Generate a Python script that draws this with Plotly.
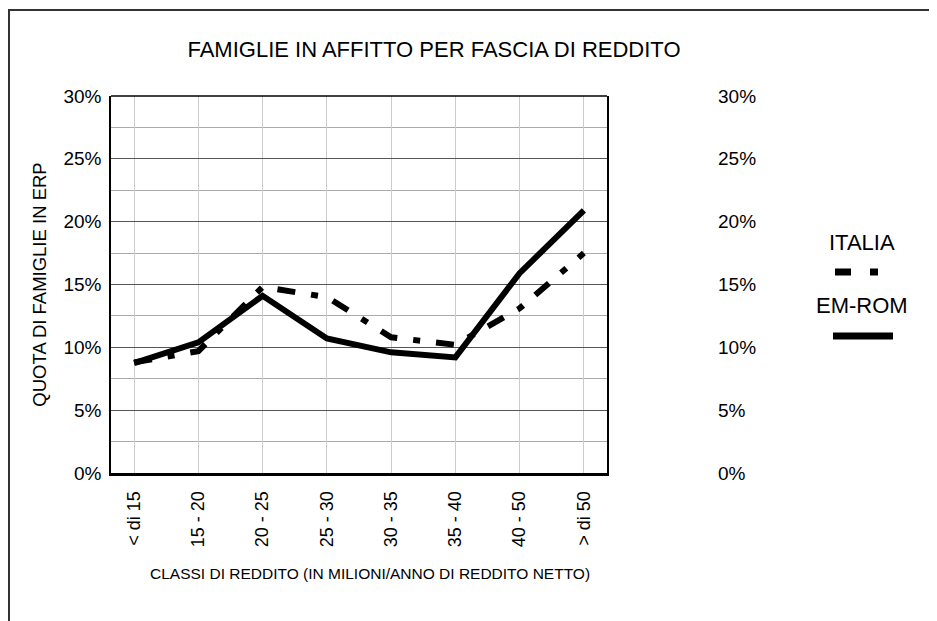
import plotly.graph_objects as go

# income classes (millions of lire / year, net)
classi = ["< di 15", "15 - 20", "20 - 25", "25 - 30", "30 - 35", "35 - 40", "40 - 50", "> di 50"]
# share of families in public housing (ERP), in %
italia = [8.8, 9.7, 14.8, 14.0, 10.8, 10.2, 13.1, 17.5]
em_rom = [8.75, 10.4, 14.1, 10.7, 9.6, 9.2, 15.9, 20.9]

y_ticks = [0, 0.05, 0.10, 0.15, 0.20, 0.25, 0.30]
y_labels = ["0%", "5%", "10%", "15%", "20%", "25%", "30%"]

FONT = "Liberation Sans, Arial, sans-serif"

# the page body has an 8px margin, so layout is worked out in screen px minus 8
OFF = 8
PL, PR, PT, PB = 111 - OFF, 607 - OFF, 96 - OFF, 473 - OFF   # plot area
PAPER_R = 800 - OFF
W = float(PAPER_R - PL)
H = float(PB - PT)


def px_x(p):
    return (p - OFF - PL) / W


def px_y(p):
    return (PB - (p - OFF)) / H


fig = go.Figure()
fig.add_trace(go.Scatter(x=classi, y=[v / 100 for v in italia], mode="lines", name="ITALIA",
                         line=dict(color="black", width=6, dash="18px,16px,7px,16px")))
fig.add_trace(go.Scatter(x=classi, y=[v / 100 for v in em_rom], mode="lines", name="EM-ROM",
                         yaxis="y2", line=dict(color="black", width=6)))

fig.update_layout(
    width=937, height=621,
    margin=dict(l=PL, r=937 - PAPER_R, t=PT, b=621 - PB),
    paper_bgcolor="white", plot_bgcolor="white",
    font=dict(family=FONT, size=19, color="black"),
    showlegend=False,
    title=dict(text="FAMIGLIE IN AFFITTO PER FASCIA DI REDDITO", xref="container",
               x=(434 - OFF) / 937, xanchor="center", y=1 - (49 - OFF) / 621, yanchor="middle",
               font=dict(family=FONT, size=22, color="black")),
    xaxis=dict(domain=[0, (PR - PL) / W], range=[-0.36, 7.36], tickangle=-90,
               tickfont=dict(size=18),
               showgrid=True, gridcolor="#cccccc", gridwidth=1,
               showline=True, linecolor="black", linewidth=3, ticks="",
               ticklabelstandoff=8),
    yaxis=dict(range=[0, 0.30], tickvals=y_ticks, ticktext=y_labels,
               showgrid=True, gridcolor="#555555", gridwidth=1,
               minor=dict(dtick=0.025, tick0=0, showgrid=True, gridcolor="#aaaaaa", gridwidth=1),
               showline=True, linecolor="black", linewidth=1.5, mirror=True, ticks="",
               ticklabelstandoff=4, zeroline=False,
               title=dict(text="QUOTA DI FAMIGLIE IN ERP", standoff=12, font=dict(size=18.5))),
    yaxis2=dict(range=[0, 0.30], tickvals=y_ticks, ticktext=y_labels, overlaying="y", side="right",
                anchor="free", position=px_x(715), showgrid=False, showline=False, ticks="",
                ticklabelstandoff=2, zeroline=False),
)

shapes = [
    # outer frame (runs off the right and bottom edges)
    dict(type="rect", xref="paper", yref="paper", x0=px_x(9), x1=px_x(960), y0=px_y(10), y1=px_y(650),
         line=dict(color="#333333", width=2), layer="below"),
    # top border of the plot area
    dict(type="line", xref="x domain", yref="paper", x0=0, x1=1, y0=1, y1=1,
         line=dict(color="black", width=1.5)),
    # legend symbols
    dict(type="line", xref="paper", yref="paper", x0=px_x(835), x1=px_x(878), y0=px_y(272), y1=px_y(272),
         line=dict(color="black", width=7, dash="16px,19px,8px")),
    dict(type="line", xref="paper", yref="paper", x0=px_x(833), x1=px_x(893), y0=px_y(336), y1=px_y(336),
         line=dict(color="black", width=7)),
]
fig.update_layout(shapes=shapes)

# x axis title sits a little right of the plot centre in the original
fig.add_annotation(text="CLASSI DI REDDITO (IN MILIONI/ANNO DI REDDITO NETTO)", xref="paper", yref="paper",
                   x=px_x(370), y=px_y(573), showarrow=False, font=dict(family=FONT, size=15.5),
                   xanchor="center", yanchor="middle")
fig.add_annotation(text="ITALIA", xref="paper", yref="paper", x=px_x(862), y=px_y(242),
                   showarrow=False, font=dict(family=FONT, size=22), xanchor="center", yanchor="middle")
fig.add_annotation(text="EM-ROM", xref="paper", yref="paper", x=px_x(862), y=px_y(305),
                   showarrow=False, font=dict(family=FONT, size=22), xanchor="center", yanchor="middle")

fig.write_html("out.html")
